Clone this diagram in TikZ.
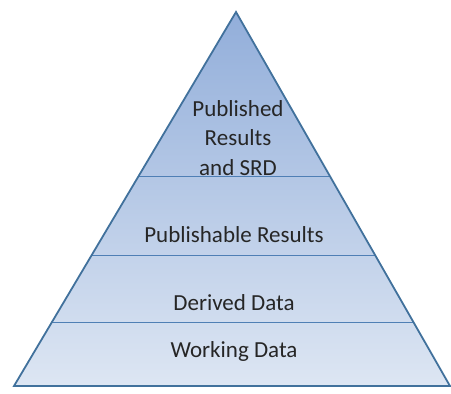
\documentclass[tikz,border=0pt]{standalone}
\usepackage{fontspec}
\setmainfont{Carlito}
\usepackage{tikz}
\usetikzlibrary{calc,positioning}

\definecolor{edgeblue}{HTML}{41719C}
\definecolor{lineblue}{HTML}{4F7FB5}
\definecolor{topblue}{HTML}{92AEDA}
\definecolor{baseblue}{HTML}{DDE6F3}

\begin{document}
\begin{tikzpicture}[x=1pt, y=-1pt]
          \tikzstyle{layer} = [draw=lineblue, line width=1pt]
          \tikzstyle{lbl} = [font=\fontsize{23}{29.5}\selectfont, text=black!85, align=center, inner sep=0pt]
          \useasboundingbox (0,0) rectangle (451,394);

          \coordinate (top) at (236, 12);
          \coordinate (bl) at (14, 386);
          \coordinate (br) at (450, 386);

          \shade[top color=topblue, bottom color=baseblue] (top) -- (bl) -- (br) -- cycle;

          \draw[layer] ($(top)!0.441!(bl)$) -- ($(top)!0.441!(br)$);
          \draw[layer] ($(top)!0.652!(bl)$) -- ($(top)!0.652!(br)$);
          \draw[layer] ($(top)!0.829!(bl)$) -- ($(top)!0.829!(br)$);

          \draw[edgeblue, line width=1.8pt, line join=miter] (top) -- (bl) -- (br) -- cycle;

          \node[lbl] (pub) at (238, 138) {Published\\Results\\and SRD};
          \node[lbl] (pubable) at (234, 235) {Publishable Results};
          \node[lbl] (derived) at (234, 303) {Derived Data};
          \node[lbl] (working) at (234, 351) {Working Data};
        \end{tikzpicture}
\end{document}
